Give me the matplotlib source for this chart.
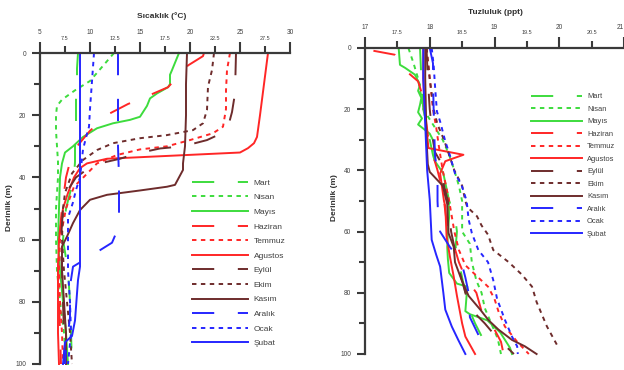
import matplotlib
matplotlib.use("Agg")
import matplotlib.pyplot as plt

plt.rcParams['font.family'] = ['Liberation Sans', 'DejaVu Sans']
plt.rcParams['lines.scale_dashes'] = False

months = ["Mart", "Nisan", "Mayıs", "Haziran", "Temmuz", "Agustos",
          "Eylül", "Ekim", "Kasım", "Aralık", "Ocak", "Şubat"]

# ---------------- Temperature (°C) profiles: depth (m) and value ----------------
t_mart_d = [0, 5, 10, 15, 20, 25, 30, 35, 40, 45, 50, 60, 70, 80, 90, 100]
t_mart = [8.8, 8.7, 8.7, 8.6, 8.6, 8.6, 8.5, 8.5, 8.4, 8.0, 7.6, 7.3, 7.8, 8.0, 8.1, 8.2]

t_nisan_d = [0, 3, 6, 9, 12, 15, 17, 20, 25, 30, 35, 40, 50, 60, 70, 80, 90, 100]
t_nisan = [12.4, 11.6, 10.8, 10.0, 8.5, 7.2, 6.7, 6.6, 6.6, 6.7, 6.8, 6.8, 6.6, 6.6, 6.7, 7.0, 7.4, 7.6]

t_mayis_d = [0, 5.5, 7, 10, 11, 13, 14.6, 17, 20.5, 21.5, 22.6, 24.2, 27, 30, 32, 35.5, 40, 50, 60, 70, 80, 90, 100]
t_mayis = [18.9, 18.2, 18.0, 18.0, 17.8, 16.7, 16.0, 15.7, 15.0, 14.0, 12.3, 10.7, 9.3, 8.3, 7.5, 7.2, 7.0, 6.9, 6.8, 7.0, 7.3, 7.6, 7.8]

t_haziran_d = [0, 1, 4, 7.5, 11, 13.5, 16.4, 19.4, 25, 30, 35, 40, 50, 60, 70, 80, 90, 100]
t_haziran = [21.4, 21.3, 19.8, 18.8, 17.8, 16.0, 13.8, 12.0, 10.0, 8.7, 8.0, 7.6, 7.2, 6.9, 6.8, 6.9, 7.0, 7.1]

t_temmuz_d = [0, 5.5, 12, 18, 23.7, 25.8, 28, 30, 31, 32.8, 35.5, 39.8, 43, 50, 60, 70, 80, 90, 100]
t_temmuz = [24.0, 23.7, 23.6, 23.6, 23.3, 22.3, 20.0, 17.7, 15.0, 12.7, 10.7, 9.4, 8.4, 7.6, 7.0, 6.9, 7.0, 7.2, 7.3]

t_agustos_d = [0, 5, 10, 15, 20, 27, 29, 30.6, 32, 34, 35.5, 37, 40, 45, 50, 60, 70, 80, 90, 100]
t_agustos = [27.8, 27.6, 27.4, 27.2, 27.0, 26.7, 26.4, 25.8, 25.0, 11.7, 9.7, 9.0, 8.4, 7.8, 7.3, 6.9, 6.8, 6.8, 6.8, 6.9]

t_eylul_d = [0, 13, 19, 25, 28, 30, 30.7, 32.3, 34, 36, 40, 45, 50, 60, 70, 80, 90, 100]
t_eylul = [24.6, 24.5, 24.2, 23.7, 21.7, 19.3, 17.0, 14.7, 13.0, 10.3, 8.6, 7.6, 7.3, 7.1, 7.2, 7.3, 7.4, 7.5]

t_ekim_d = [0, 5.5, 10.8, 18.3, 22.6, 24.8, 26.4, 27.4, 29, 31.2, 34.4, 38.7, 45, 50, 60, 70, 80, 90, 100]
t_ekim = [22.4, 22.2, 21.8, 21.7, 21.3, 20.3, 17.7, 15.0, 12.3, 10.7, 9.3, 8.2, 7.5, 7.3, 7.2, 7.4, 7.7, 8.0, 8.2]

t_kasim_d = [0, 10, 20, 30, 35.5, 37.6, 42.4, 43, 44.2, 45.6, 47.2, 50.5, 54.7, 59, 62.2, 70, 80, 90, 100]
t_kasim = [19.7, 19.6, 19.6, 19.5, 19.3, 19.3, 18.5, 17.7, 15.0, 11.7, 10.0, 9.0, 8.3, 7.7, 7.2, 7.2, 7.4, 7.6, 7.6]

t_aralik_d = [0, 10, 20, 30, 40, 50, 55, 58, 61, 65, 68.7, 75, 85, 95, 100]
t_aralik = [12.8, 12.8, 12.8, 12.8, 12.9, 12.9, 12.9, 12.6, 12.2, 10.2, 8.3, 8.0, 8.0, 7.6, 7.5]

t_ocak_d = [0, 9, 18, 23.7, 26, 31, 40, 44, 48, 53, 60, 70, 80, 90, 100]
t_ocak = [10.4, 10.2, 10.0, 9.9, 9.7, 9.3, 9.0, 8.6, 8.3, 7.8, 7.8, 7.8, 8.0, 8.1, 7.8]

t_subat_d = [0, 20, 40, 60, 68.7, 73, 86, 91, 93, 100]
t_subat = [9.0, 9.0, 9.0, 9.0, 9.0, 8.8, 8.5, 8.2, 7.5, 7.3]

# ---------------- Salinity (ppt) profiles ----------------
s_mart_d = [0, 5, 10, 15, 20, 25, 30, 35, 40, 45, 50, 55, 60, 65, 70, 75, 80, 85, 90, 95, 100]
s_mart = [17.85, 17.86, 17.87, 17.88, 17.9, 17.95, 18.0, 18.05, 18.12, 18.2, 18.3, 18.39, 18.42, 18.4, 18.45, 18.5, 18.55, 18.6, 18.7, 18.82, 18.86]

s_nisan_d = [0, 5, 10, 15, 20, 25, 30, 35, 40, 45, 50, 57, 60, 64, 70, 76, 80, 85, 90, 95, 100]
s_nisan = [17.67, 17.75, 17.82, 17.86, 17.9, 18.05, 18.2, 18.3, 18.38, 18.45, 18.5, 18.5, 18.5, 18.62, 18.65, 18.72, 18.8, 18.85, 18.95, 19.05, 19.1]

s_mayis_d = [0, 5.5, 6.5, 8.7, 12, 14, 16.3, 18.5, 21, 23, 25, 28, 30.5, 37, 41, 45, 49, 55, 60, 65, 69, 73.5, 77, 78, 86, 87, 89, 93, 98, 100]
s_mayis = [17.52, 17.54, 17.62, 17.77, 17.85, 17.82, 17.87, 17.85, 17.82, 17.88, 17.82, 18.0, 18.06, 18.08, 18.21, 18.25, 18.29, 18.3, 18.28, 18.27, 18.28, 18.3, 18.42, 18.58, 18.55, 18.62, 18.89, 19.09, 19.24, 19.27]

s_haziran_d = [0.9, 2.2, 5, 7.6, 10.9, 15, 20, 25, 30, 35, 40, 45, 50, 55, 60, 65, 70, 75, 80, 86, 90, 96, 100]
s_haziran = [17.13, 17.46, 17.58, 17.64, 17.82, 17.88, 17.92, 17.95, 17.98, 18.05, 18.12, 18.18, 18.22, 18.25, 18.3, 18.38, 18.45, 18.55, 18.72, 18.8, 18.95, 19.1, 19.14]

s_temmuz_d = [0, 10, 20, 26, 32, 40, 50, 60, 66, 71, 75, 78, 82, 86, 91, 96, 100]
s_temmuz = [17.95, 18.0, 18.05, 18.1, 18.14, 18.2, 18.3, 18.38, 18.45, 18.55, 18.75, 18.9, 19.0, 19.06, 19.16, 19.35, 19.53]

s_agustos_d = [0, 10, 20, 32.7, 34.9, 37, 41, 50, 51.8, 61.6, 68, 74.7, 81, 90, 94.3, 100]
s_agustos = [17.9, 17.9, 17.92, 17.98, 18.52, 18.24, 18.16, 18.22, 18.24, 18.26, 18.31, 18.37, 18.42, 18.5, 18.55, 18.7]

s_eylul_d = [0, 10, 20, 30, 34, 38, 45, 50, 60, 65, 70, 80, 85, 90, 95, 100]
s_eylul = [17.95, 17.97, 18.0, 18.05, 18.08, 18.19, 18.22, 18.28, 18.33, 18.38, 18.42, 18.55, 18.62, 18.85, 19.05, 19.3]

s_ekim_d = [0, 10, 20, 25, 30, 40, 45, 50, 52, 55, 58, 61, 66, 70, 74, 78, 83, 91, 98]
s_ekim = [17.95, 18.0, 18.06, 18.12, 18.22, 18.38, 18.5, 18.55, 18.58, 18.73, 18.8, 18.9, 18.98, 19.22, 19.42, 19.58, 19.65, 19.81, 19.99]

s_kasim_d = [0, 10, 20, 30, 38, 40.5, 45, 51, 60.5, 65, 70, 75.7, 81, 85.5, 89, 92, 95.4, 97.5, 100]
s_kasim = [17.93, 17.93, 17.94, 17.95, 17.97, 18.0, 18.2, 18.27, 18.29, 18.37, 18.39, 18.49, 18.6, 18.78, 18.91, 19.06, 19.27, 19.47, 19.65]

s_aralik_d = [0, 5, 10, 20, 35, 41, 50, 55, 60, 65, 70, 75, 80, 88, 95, 100]
s_aralik = [18.0, 18.05, 18.05, 18.06, 18.08, 18.12, 18.12, 18.13, 18.16, 18.31, 18.49, 18.55, 18.6, 18.62, 18.78, 18.83]

s_ocak_d = [0, 5.5, 12, 20.7, 24, 30.5, 35, 41, 44.7, 50, 56, 60.5, 66, 70, 75.8, 82, 88.8, 94.3, 97.5, 100]
s_ocak = [18.03, 18.06, 18.08, 18.11, 18.16, 18.24, 18.31, 18.39, 18.49, 18.57, 18.6, 18.65, 18.75, 18.9, 18.98, 19.04, 19.16, 19.27, 19.35, 19.36]

s_subat_d = [0, 10, 20, 30, 40, 49.6, 62.7, 67.6, 71.4, 80, 85.5, 91, 95.4, 100]
s_subat = [17.9, 17.9, 17.92, 17.94, 17.96, 18.0, 18.03, 18.1, 18.16, 18.21, 18.24, 18.34, 18.44, 18.55]

temp_profiles = [(t_mart_d, t_mart), (t_nisan_d, t_nisan), (t_mayis_d, t_mayis),
                 (t_haziran_d, t_haziran), (t_temmuz_d, t_temmuz), (t_agustos_d, t_agustos),
                 (t_eylul_d, t_eylul), (t_ekim_d, t_ekim), (t_kasim_d, t_kasim),
                 (t_aralik_d, t_aralik), (t_ocak_d, t_ocak), (t_subat_d, t_subat)]
sal_profiles = [(s_mart_d, s_mart), (s_nisan_d, s_nisan), (s_mayis_d, s_mayis),
                (s_haziran_d, s_haziran), (s_temmuz_d, s_temmuz), (s_agustos_d, s_agustos),
                (s_eylul_d, s_eylul), (s_ekim_d, s_ekim), (s_kasim_d, s_kasim),
                (s_aralik_d, s_aralik), (s_ocak_d, s_ocak), (s_subat_d, s_subat)]

# ---------------- styles ----------------
GREEN, RED, BROWN, BLUE = '#3ddc3d', '#ff2626', '#6e2c2c', '#2626ff'
colors = [GREEN] * 3 + [RED] * 3 + [BROWN] * 3 + [BLUE] * 3
long_dash = (0, (16, 17))
short_dash = (0, (3.2, 3.2))
styles = [long_dash, short_dash, '-'] * 4
LW = 1.4
AXC = '#3a3a3a'
TXC = '#404040'

fig = plt.figure(figsize=(6.24, 3.70), dpi=100)
ax1 = fig.add_axes([40 / 624, 1 - 364 / 370, 250 / 624, 311 / 370])
ax2 = fig.add_axes([365 / 624, 1 - 354 / 370, 259 / 624, 306 / 370])


def style_axis(ax, xlim, major, minor, fs_major=4.7, fs_minor=4.0):
    ax.set_xlim(*xlim)
    ax.set_ylim(100, 0)
    ax.xaxis.set_ticks_position('top')
    ax.xaxis.set_label_position('top')
    for s in ['right', 'bottom']:
        ax.spines[s].set_visible(False)
    for s in ['top', 'left']:
        ax.spines[s].set_linewidth(1.6)
        ax.spines[s].set_color(AXC)
    ax.set_xticks(major)
    ax.set_xticklabels([('%g' % v) for v in major], fontsize=fs_major, color=TXC)
    ax.set_xticks(minor, minor=True)
    ax.set_xticklabels([('%g' % v) for v in minor], minor=True, fontsize=fs_minor, color=TXC)
    ax.set_yticks([0, 20, 40, 60, 80, 100])
    ax.set_yticklabels(['0', '20', '40', '60', '80', '100'], fontsize=4.7, color=TXC)
    ax.set_yticks([10, 30, 50, 70, 90], minor=True)
    ax.tick_params(axis='x', which='major', length=8, width=1.5, color=AXC, pad=4)
    ax.tick_params(axis='x', which='minor', length=5, width=1.5, color=AXC, pad=4)
    ax.tick_params(axis='y', which='major', length=6, width=1.5, color=AXC, pad=4)
    ax.tick_params(axis='y', which='minor', length=4, width=1.5, color=AXC)
    ax.set_facecolor('none')


style_axis(ax1, (5, 30), [5, 10, 15, 20, 25, 30], [7.5, 12.5, 17.5, 22.5, 27.5])
style_axis(ax2, (17, 21), [17, 18, 19, 20, 21], [17.5, 18.5, 19.5, 20.5])
# keep the last (edge) tick label inside the figure
ax2.get_xticklabels()[-1].set_horizontalalignment('right')

for (d, v), name, c, ls in zip(temp_profiles, months, colors, styles):
    ax1.plot(v, d, color=c, linestyle=ls, lw=LW, label=name, clip_on=False)
for (d, v), name, c, ls in zip(sal_profiles, months, colors, styles):
    ax2.plot(v, d, color=c, linestyle=ls, lw=LW, label=name, clip_on=False)

leg1 = ax1.legend(loc='upper left', bbox_to_anchor=(192 / 624, 1 - 179 / 370),
                  bbox_transform=fig.transFigure, frameon=False, fontsize=6,
                  handlelength=6.7, handletextpad=0.7, labelspacing=0.81,
                  borderpad=0, borderaxespad=0)
leg2 = ax2.legend(loc='upper left', bbox_to_anchor=(531 / 624, 1 - 93 / 370),
                  bbox_transform=fig.transFigure, frameon=False, fontsize=5.4,
                  handlelength=6.8, handletextpad=0.65, labelspacing=0.70,
                  borderpad=0, borderaxespad=0)
for leg in (leg1, leg2):
    for t in leg.get_texts():
        t.set_color(TXC)

fig.text(162 / 624, 1 - 16 / 370, 'Sıcaklık (°C)', ha='center', va='center',
         fontsize=6, fontweight='bold', color='#303030')
fig.text(495 / 624, 1 - 13 / 370, 'Tuzluluk (ppt)', ha='center', va='center',
         fontsize=6, fontweight='bold', color='#303030')
fig.text(10 / 624, 1 - 208 / 370, 'Derinlik (m)', ha='center', va='center',
         rotation=90, fontsize=6, fontweight='bold', color='#303030')
fig.text(335 / 624, 1 - 198 / 370, 'Derinlik (m)', ha='center', va='center',
         rotation=90, fontsize=6, fontweight='bold', color='#303030')

fig.savefig('out.png', dpi=100)
